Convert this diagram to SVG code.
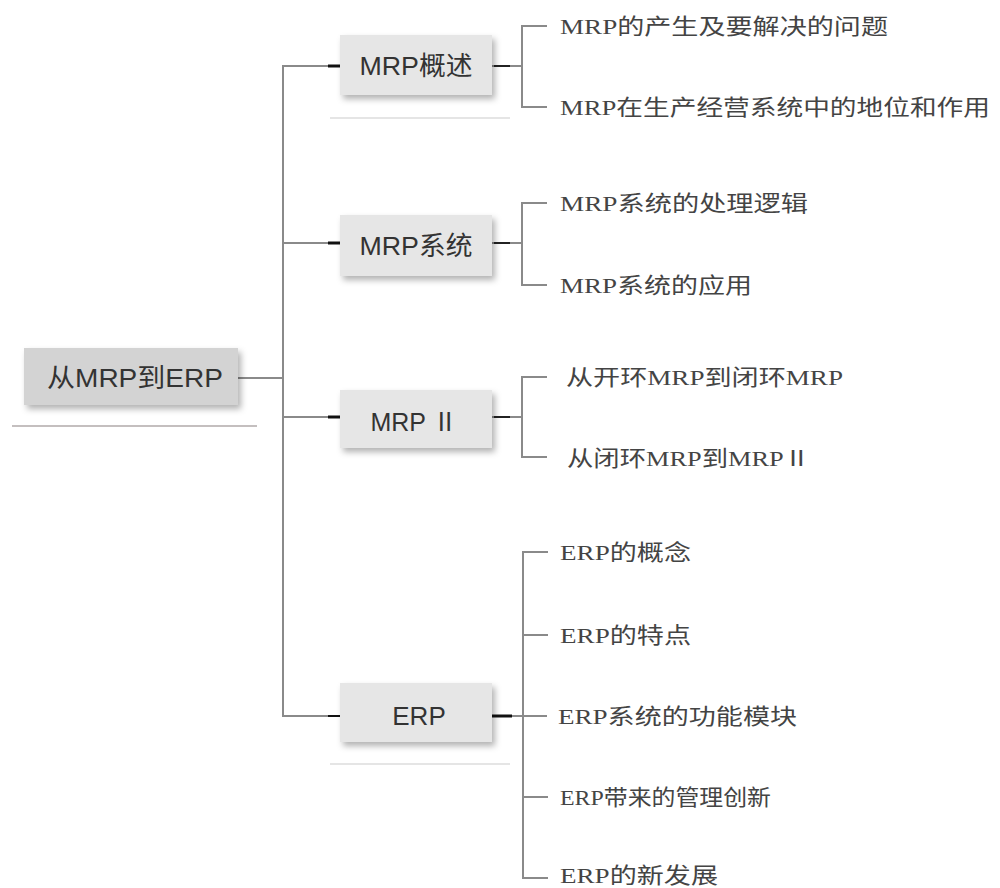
<svg xmlns="http://www.w3.org/2000/svg" width="1000" height="888" viewBox="0 0 1000 888">
<defs>
<filter id="sh" x="-20%" y="-30%" width="140%" height="170%">
<feDropShadow dx="3" dy="4" stdDeviation="3" flood-color="#000" flood-opacity="0.3"/>
</filter>
<style>
.box{fill:#e6e6e6;filter:url(#sh)}
.root{fill:#d3d3d3;filter:url(#sh)}
.bt{font-family:"Liberation Sans","Noto Sans CJK SC",sans-serif;font-size:26px;fill:#333;text-anchor:middle}
.ct{font-family:"Liberation Serif","Noto Sans CJK SC",serif;font-size:22px;fill:#444}
.ln{stroke:#8a8a8a;stroke-width:2;fill:none}
.stub{stroke:#111;stroke-width:3}
.ul{stroke:#b0aaaa;stroke-width:1.5}
.ul2{stroke:#ddd;stroke-width:1.5}
</style>
</defs>
<g id="connectors">
<line class="ln" x1="238" y1="378" x2="283" y2="378"/>
<path class="ln" d="M340,66 H283 V716 H340"/>
<line class="ln" x1="283" y1="243" x2="340" y2="243"/>
<line class="ln" x1="283" y1="417" x2="340" y2="417"/>
<line class="stub" x1="328" y1="66" x2="340" y2="66"/>
<line class="stub" x1="328" y1="243" x2="340" y2="243"/>
<line class="stub" x1="328" y1="417" x2="340" y2="417"/>
<line stroke="#111" stroke-width="2" x1="328" y1="716" x2="340" y2="716"/>
<line class="ln" x1="492" y1="66" x2="522" y2="66"/>
<line stroke="#222" stroke-width="2" x1="494" y1="66" x2="510" y2="66"/>
<path class="ln" d="M547,26 H522 V107 H547"/>
<line class="ln" x1="492" y1="243" x2="522" y2="243"/>
<line stroke="#222" stroke-width="2" x1="494" y1="243" x2="510" y2="243"/>
<path class="ln" d="M547,203 H522 V285 H547"/>
<line class="ln" x1="492" y1="417" x2="522" y2="417"/>
<line stroke="#222" stroke-width="2" x1="494" y1="417" x2="510" y2="417"/>
<path class="ln" d="M547,377 H522 V457 H547"/>
<line class="ln" x1="492" y1="716" x2="547" y2="716"/>
<line class="stub" x1="492" y1="716" x2="512" y2="716"/>
<path class="ln" d="M548,552 H523 V878 H548"/>
<line class="ln" x1="523" y1="635" x2="548" y2="635"/>
<line class="ln" x1="523" y1="797" x2="548" y2="797"/>
</g>
<g id="root">
<rect class="root" x="24" y="348" width="214" height="57"/>
<text class="bt" x="135" y="387" textLength="176" lengthAdjust="spacingAndGlyphs">从MRP到ERP</text>
<line class="ul" x1="12" y1="426" x2="257" y2="426"/>
</g>
<g id="n1">
<rect class="box" x="340" y="35" width="152" height="60"/>
<text class="bt" x="416" y="75" textLength="113" lengthAdjust="spacingAndGlyphs">MRP概述</text>
<line class="ul2" x1="330" y1="118" x2="510" y2="118"/>
</g>
<g id="n2">
<rect class="box" x="340" y="215" width="152" height="61"/>
<text class="bt" x="416" y="255" textLength="113" lengthAdjust="spacingAndGlyphs">MRP系统</text>
</g>
<g id="n3">
<rect class="box" x="340" y="390" width="152" height="58"/>
<text class="bt" x="414" y="431" textLength="87" lengthAdjust="spacingAndGlyphs">MRP Ⅱ</text>
</g>
<g id="n4">
<rect class="box" x="340" y="683" width="152" height="59"/>
<text class="bt" x="419" y="725">ERP</text>
<line class="ul2" x1="330" y1="764" x2="510" y2="764"/>
</g>
<g id="c1"><text class="ct" x="560" y="34" textLength="328" lengthAdjust="spacingAndGlyphs">MRP的产生及要解决的问题</text></g>
<g id="c2"><text class="ct" x="560" y="115" textLength="430" lengthAdjust="spacingAndGlyphs">MRP在生产经营系统中的地位和作用</text></g>
<g id="c3"><text class="ct" x="560" y="211" textLength="248" lengthAdjust="spacingAndGlyphs">MRP系统的处理逻辑</text></g>
<g id="c4"><text class="ct" x="560" y="293" textLength="192" lengthAdjust="spacingAndGlyphs">MRP系统的应用</text></g>
<g id="c5"><text class="ct" x="566" y="385" textLength="277" lengthAdjust="spacingAndGlyphs">从开环MRP到闭环MRP</text></g>
<g id="c6"><text class="ct" x="567" y="466" textLength="243" lengthAdjust="spacingAndGlyphs">从闭环MRP到MRPⅡ</text></g>
<g id="c7"><text class="ct" x="560" y="560" textLength="131" lengthAdjust="spacingAndGlyphs">ERP的概念</text></g>
<g id="c8"><text class="ct" x="560" y="643" textLength="131" lengthAdjust="spacingAndGlyphs">ERP的特点</text></g>
<g id="c9"><text class="ct" x="558" y="724" textLength="239" lengthAdjust="spacingAndGlyphs">ERP系统的功能模块</text></g>
<g id="c10"><text class="ct" x="560" y="805" textLength="211" lengthAdjust="spacingAndGlyphs">ERP带来的管理创新</text></g>
<g id="c11"><text class="ct" x="560" y="883" textLength="158" lengthAdjust="spacingAndGlyphs">ERP的新发展</text></g>
</svg>
